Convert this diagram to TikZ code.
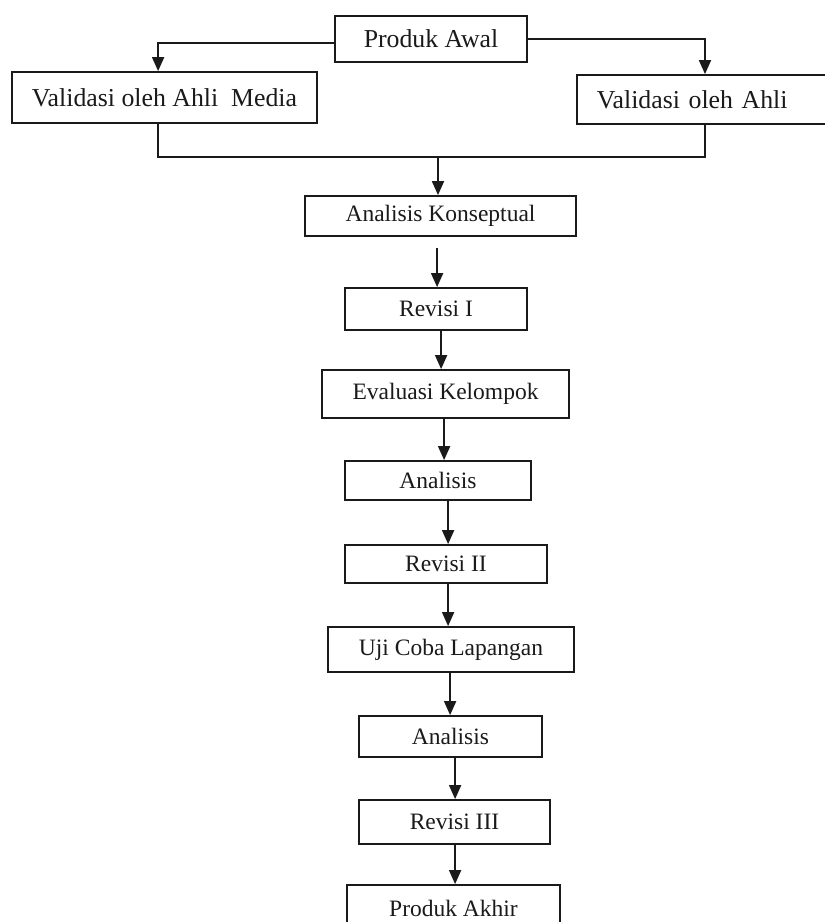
\documentclass[tikz,border=0pt]{standalone}
\usepackage{fontspec}
\setmainfont{Liberation Serif}
\usetikzlibrary{arrows.meta,calc}
\definecolor{ink}{HTML}{1A1A1A}
\tikzset{
  boxtop/.style={draw=ink, line width=1.8pt, text=ink, inner sep=0pt,
    font=\fontsize{25.8}{30}\selectfont},
  boxlow/.style={draw=ink, line width=1.8pt, text=ink, inner sep=0pt,
    font=\fontsize{23.5}{27}\selectfont},
  conn/.style={draw=ink, line width=1.8pt},
  arr/.style={conn, -{Triangle[width=12pt,length=14pt]}}
}
\begin{document}
\begin{tikzpicture}[x=1pt,y=-1pt]
\useasboundingbox (0,0) rectangle (825,922);
\fill[white] (0,0) rectangle (825,922);

% top row
\node[boxtop, minimum width=192pt, minimum height=46pt] (pa) at (431,39) {Produk Awal};
\node[boxtop, minimum width=305pt, minimum height=51pt] (vm) at (164.5,97.5) {Validasi oleh Ahli\ \ Media};
\node[boxtop, anchor=west, text width=220pt, align=left, inner xsep=20pt, minimum height=49pt] (va) at (576,99.5) {Validasi oleh Ahli};

% lower column
\node[boxlow, minimum width=271pt, minimum height=40pt] (ak) at (440.5,216) {Analisis Konseptual};
\node[boxlow, minimum width=182pt, minimum height=42pt] (r1) at (436,309) {Revisi I};
\node[boxlow, minimum width=247pt, minimum height=48pt] (ek) at (445.5,394) {Evaluasi Kelompok};
\node[boxlow, minimum width=186pt, minimum height=39pt] (an1) at (438,480.5) {Analisis};
\node[boxlow, minimum width=202pt, minimum height=38pt] (r2) at (446,564) {Revisi II};
\node[boxlow, minimum width=246pt, minimum height=45pt] (uc) at (451,649.5) {Uji Coba Lapangan};
\node[boxlow, minimum width=183pt, minimum height=41pt] (an2) at (450.5,736.5) {Analisis};
\node[boxlow, minimum width=191pt, minimum height=44pt] (r3) at (454.5,822) {Revisi III};
\node[boxlow, minimum width=213pt, minimum height=46pt] (pk) at (453.5,908) {Produk Akhir};

% top connectors
\draw[arr] ($(pa.west)+(0,4)$) -| ($(vm.north west)+(147,0)$);
\draw[arr] (pa.east) -| ($(va.north west)+(129,0)$);
\coordinate (m) at (438,157);
\draw[conn] ($(vm.south west)+(147,0)$) |- (m);
\draw[conn] ($(va.south west)+(129,0)$) |- (m);
\draw[arr] (m) -- (ak.north -| m);

% column connectors
\draw[arr] ($(ak.south west)+(133,11)$) -- ($(r1.north west)+(93,0)$);
\draw[arr] ($(r1.south west)+(97,0)$) -- ($(ek.north west)+(120,0)$);
\draw[arr] ($(ek.south west)+(123,0)$) -- ($(an1.north west)+(100,0)$);
\draw[arr] ($(an1.south west)+(104,0)$) -- ($(r2.north west)+(104,0)$);
\draw[arr] ($(r2.south west)+(104,0)$) -- ($(uc.north west)+(121,0)$);
\draw[arr] ($(uc.south west)+(123,0)$) -- ($(an2.north west)+(92,0)$);
\draw[arr] ($(an2.south west)+(97,0)$) -- ($(r3.north west)+(97,0)$);
\draw[arr] ($(r3.south west)+(97,0)$) -- ($(pk.north west)+(109,0)$);
\end{tikzpicture}
\end{document}
